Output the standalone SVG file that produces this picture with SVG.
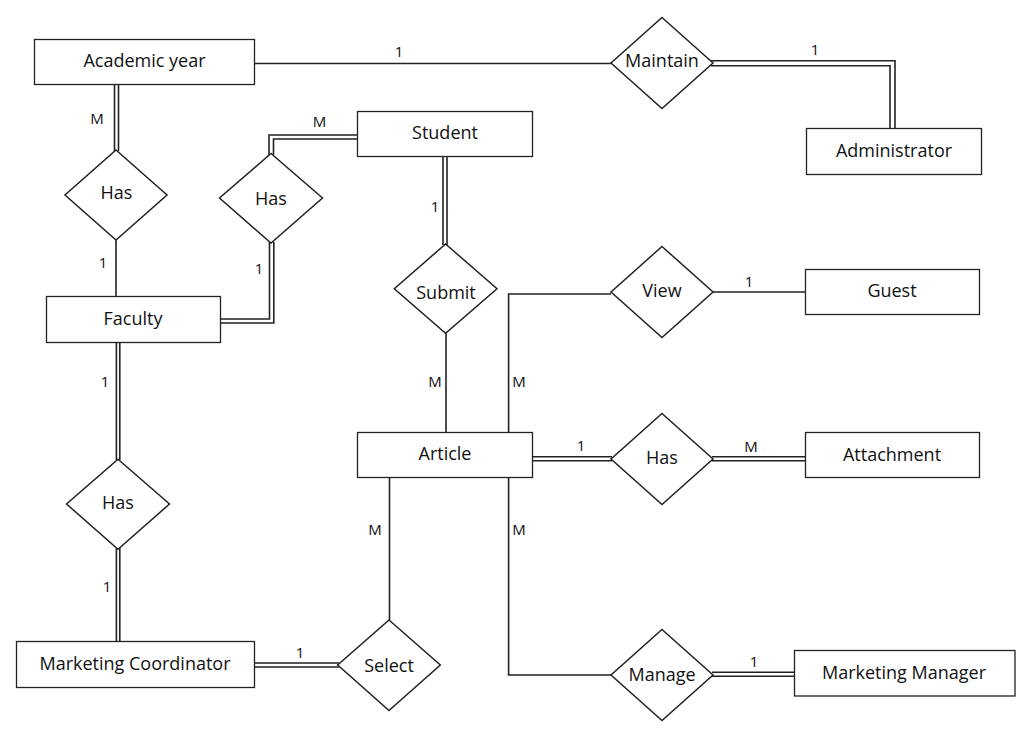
<svg xmlns="http://www.w3.org/2000/svg" width="1021" height="734" viewBox="0 0 1021 734">
<style>
.ent{fill:#fff;stroke:#222;stroke-width:1.3}
.rel{fill:#fff;stroke:#222;stroke-width:1.5}
.lbl{font-family:"Open Sans","Noto Sans",sans-serif;font-size:18px;fill:#111;text-anchor:middle;dominant-baseline:central}
.card{font-family:"Open Sans","Noto Sans",sans-serif;font-size:15px;fill:#111;text-anchor:middle;dominant-baseline:central}
.c{fill:none;stroke:#222;stroke-width:1.6}
</style>
<rect width="1021" height="734" fill="#fff"/>
<g id="connectors">
<path class="c" d="M254,63.5H611"/>
<path class="c" d="M711,60.7H895V128.5M711,65.7H890V128.5"/>
<path class="c" d="M114.5,84V151M118.5,84V151"/>
<path class="c" d="M116,240V296"/>
<path class="c" d="M357.5,135H269V155M357.5,139H273.5V155"/>
<path class="c" d="M269.5,242V319H220.5M273.8,242V323H220.5"/>
<path class="c" d="M443,156V245M447,156V245"/>
<path class="c" d="M446,333V432"/>
<path class="c" d="M611,294H508.6V432"/>
<path class="c" d="M713,292H805"/>
<path class="c" d="M532.7,456.7H612M532.7,460.7H612"/>
<path class="c" d="M712,456.7H805M712,460.7H805"/>
<path class="c" d="M389.5,477V620"/>
<path class="c" d="M508.6,477V675H611"/>
<path class="c" d="M712,672.3H794.5M712,676.3H794.5"/>
<path class="c" d="M116.4,342V460M119.8,342V460"/>
<path class="c" d="M116.4,548V642M119.8,548V642"/>
<path class="c" d="M254.5,663H339M254.5,667H339"/>
<text class="card" x="399" y="50.5">1</text>
<text class="card" x="815" y="49">1</text>
<text class="card" x="97" y="118">M</text>
<text class="card" x="103" y="262">1</text>
<text class="card" x="319.5" y="121">M</text>
<text class="card" x="259" y="268">1</text>
<text class="card" x="435" y="206">1</text>
<text class="card" x="435" y="381">M</text>
<text class="card" x="519" y="381">M</text>
<text class="card" x="749" y="281">1</text>
<text class="card" x="581" y="445">1</text>
<text class="card" x="751" y="445.5">M</text>
<text class="card" x="375" y="529">M</text>
<text class="card" x="519" y="529">M</text>
<text class="card" x="754" y="661">1</text>
<text class="card" x="105" y="381">1</text>
<text class="card" x="107" y="586">1</text>
<text class="card" x="300" y="652">1</text>
</g>
<g id="academic-year"><rect class="ent" x="34.5" y="39.5" width="220" height="45"/><text class="lbl" x="144.5" y="60">Academic year</text></g>
<g id="maintain"><polygon class="rel" points="662,17.5 713,63 662,108.5 611,63"/><text class="lbl" x="662" y="60">Maintain</text></g>
<g id="administrator"><rect class="ent" x="806.5" y="128.5" width="175" height="46"/><text class="lbl" x="894" y="149.5">Administrator</text></g>
<g id="has-academic"><polygon class="rel" points="116,150 167,195 116,240 65,195"/><text class="lbl" x="116.5" y="192">Has</text></g>
<g id="has-student"><polygon class="rel" points="271,153.5 322.5,198 271,243 219.5,198"/><text class="lbl" x="271" y="197.5">Has</text></g>
<g id="student"><rect class="ent" x="357.5" y="111.5" width="175" height="45"/><text class="lbl" x="445" y="131.5">Student</text></g>
<g id="submit"><polygon class="rel" points="445.6,244 497,288.7 445.6,333.3 394.3,288.7"/><text class="lbl" x="446" y="292">Submit</text></g>
<g id="faculty"><rect class="ent" x="46.5" y="296.5" width="174" height="46"/><text class="lbl" x="133" y="317.5">Faculty</text></g>
<g id="view"><polygon class="rel" points="662,246.5 713,292 662,337.5 611,292"/><text class="lbl" x="662" y="289.5">View</text></g>
<g id="guest"><rect class="ent" x="805.5" y="269.5" width="174" height="45"/><text class="lbl" x="892" y="289.5">Guest</text></g>
<g id="article"><rect class="ent" x="357.5" y="432.5" width="175" height="45"/><text class="lbl" x="445" y="453">Article</text></g>
<g id="has-attachment"><polygon class="rel" points="662,413.5 713,459 662,504.5 611,459"/><text class="lbl" x="662" y="456.5">Has</text></g>
<g id="attachment"><rect class="ent" x="805.5" y="432.5" width="174" height="45"/><text class="lbl" x="892" y="453.5">Attachment</text></g>
<g id="has-coordinator"><polygon class="rel" points="118,459.3 169.5,504 118,549.3 66.5,504"/><text class="lbl" x="118" y="501.5">Has</text></g>
<g id="marketing-coordinator"><rect class="ent" x="16.5" y="641.5" width="238" height="46"/><text class="lbl" x="135" y="662.5">Marketing Coordinator</text></g>
<g id="select"><polygon class="rel" points="389,620 440.3,665 389,710.5 337.7,665"/><text class="lbl" x="389" y="664.5">Select</text></g>
<g id="manage"><polygon class="rel" points="662,629.5 713,675 662,720.5 611,675"/><text class="lbl" x="662" y="674">Manage</text></g>
<g id="marketing-manager"><rect class="ent" x="794.5" y="650.5" width="220.5" height="45.5"/><text class="lbl" x="904" y="672">Marketing Manager</text></g>
</svg>
